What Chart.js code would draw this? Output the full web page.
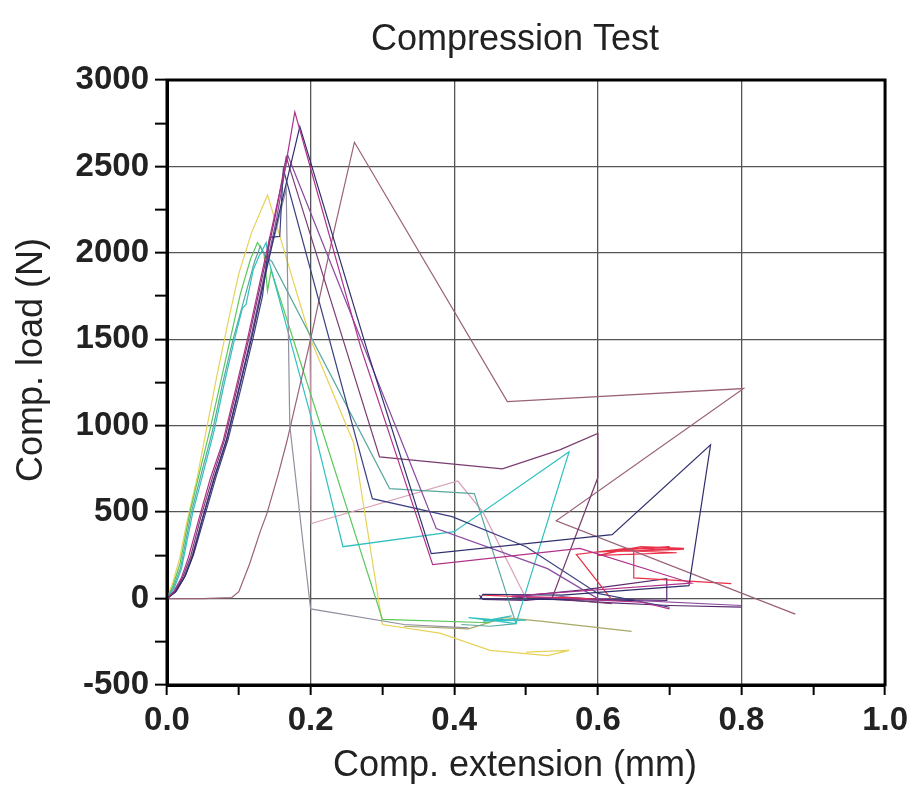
<!DOCTYPE html>
<html>
<head>
<meta charset="utf-8">
<script src="https://cdn.jsdelivr.net/npm/chart.js@4.4.1/dist/chart.umd.min.js"></script>
<style>
html,body{margin:0;padding:0;background:#fff;}
#wrap{width:914px;height:785px;position:relative;}
</style>
</head>
<body>
<div id="wrap"><canvas id="c" width="914" height="785"></canvas></div>
<script>
const chartTitle = "Compression Test";
const xAxisTitle = "Comp. extension (mm)";
const yAxisTitle = "Comp. load (N)";
const xTickLabels = ["0.0","0.2","0.4","0.6","0.8","1.0"];
const yTickLabels = ["-500","0","500","1000","1500","2000","2500","3000"];

const magentaA = [[0,0],[0.01,45],[0.02,120],[0.03,240],[0.045,470],[0.06,690],[0.078,910],[0.095,1200],[0.112,1500],[0.132,1880],[0.15,2220],[0.165,2500],[0.178,2815],[0.27,1450],[0.37,196],[0.575,290],[0.73,90],[0.48,15],[0.66,-20],[0.7,-60]];
const navyB = [[0,0],[0.012,40],[0.025,130],[0.036,250],[0.05,470],[0.066,700],[0.083,920],[0.1,1210],[0.118,1510],[0.138,1890],[0.155,2210],[0.17,2470],[0.185,2730],[0.28,1420],[0.368,260],[0.62,370],[0.757,890],[0.727,75],[0.55,20],[0.44,25],[0.436,0],[0.65,-10]];
const purpleC = [[0,0],[0.011,42],[0.022,125],[0.033,245],[0.047,470],[0.063,695],[0.08,915],[0.097,1205],[0.114,1505],[0.134,1885],[0.151,2215],[0.166,2555],[0.296,820],[0.467,750],[0.547,860],[0.6,955],[0.6,700],[0.536,0],[0.62,-30]];
const navyD = [[0,0],[0.013,45],[0.026,135],[0.037,255],[0.052,470],[0.068,700],[0.085,920],[0.102,1200],[0.12,1510],[0.133,1750],[0.143,2090],[0.157,2095],[0.162,2485],[0.286,578],[0.397,474],[0.5,300],[0.6,30],[0.7,-50]];
const purpleE = [[0,0],[0.012,38],[0.024,120],[0.035,240],[0.049,460],[0.065,690],[0.082,905],[0.099,1195],[0.116,1495],[0.136,1875],[0.153,2205],[0.168,2566],[0.375,405],[0.53,173],[0.6,0],[0.8,-40]];
const slateF = [[0,0],[0.012,42],[0.024,128],[0.035,248],[0.05,470],[0.066,698],[0.083,912],[0.1,1200],[0.117,1505],[0.136,1880],[0.15,2100],[0.166,2370],[0.171,1000],[0.19,300],[0.2,-60],[0.33,-150],[0.42,-170]];
const mauveG = [[0,0],[0.05,0],[0.09,5],[0.1,40],[0.115,200],[0.13,390],[0.139,490],[0.155,720],[0.167,910],[0.2,1500],[0.23,2080],[0.261,2640],[0.474,1140],[0.803,1215],[0.542,450],[0.875,-90]];
const cyanH = [[0,0],[0.01,60],[0.02,170],[0.036,500],[0.05,720],[0.065,960],[0.08,1250],[0.094,1500],[0.105,1680],[0.11,1700],[0.12,1900],[0.128,1980],[0.133,2017],[0.138,2060],[0.142,1950],[0.2,1060],[0.245,300],[0.4,387],[0.56,850],[0.486,-145],[0.42,-110],[0.45,-120],[0.5,-125],[0.44,-130],[0.48,-100]];
const tealI = [[0,0],[0.009,65],[0.019,180],[0.034,500],[0.048,725],[0.063,965],[0.078,1255],[0.092,1500],[0.108,1740],[0.122,1950],[0.13,2040],[0.137,1980],[0.146,1950],[0.31,636],[0.428,607],[0.486,-145],[0.45,-160],[0.41,-150]];
const greenJ = [[0,0],[0.008,70],[0.018,200],[0.032,500],[0.046,740],[0.06,980],[0.075,1260],[0.088,1500],[0.102,1760],[0.116,1960],[0.126,2060],[0.135,2000],[0.14,1780],[0.145,1900],[0.3,-120],[0.45,-140]];
const yellowK = [[0,0],[0.008,90],[0.018,240],[0.028,450],[0.042,700],[0.056,1000],[0.07,1300],[0.085,1600],[0.1,1880],[0.118,2120],[0.14,2335],[0.2,1500],[0.26,900],[0.3,-150],[0.38,-200],[0.45,-300],[0.53,-330],[0.56,-300],[0.5,-310]];
const pinkM = [[0.199,1500],[0.201,434],[0.405,680],[0.44,500],[0.5,0]];
const redN = [[0.44,20],[0.5,10],[0.56,5],[0.62,-10],[0.57,255],[0.64,290],[0.72,285],[0.6,270],[0.7,300],[0.62,280],[0.71,265],[0.6,250],[0.66,300],[0.72,290],[0.65,275],[0.65,120],[0.786,87]];
const oliveO = [[0.33,-160],[0.42,-175],[0.47,-110],[0.52,-130],[0.647,-190]];
const darkP = [[0.435,20],[0.44,-5],[0.5,-10],[0.55,10],[0.6,-5],[0.696,-10],[0.696,115],[0.58,50],[0.48,10],[0.62,-25],[0.7,-40],[0.8,-50]];

const seriesList = [
  [magentaA,'#b0308a'],[navyB,'#30306e'],[purpleC,'#7a3c70'],[navyD,'#3c4080'],
  [purpleE,'#8a4aa0'],[slateF,'#9090a0'],[mauveG,'#9a6078'],[cyanH,'#30c0c0'],
  [tealI,'#5aa8a0'],[greenJ,'#58c858'],[yellowK,'#e6d25a'],[pinkM,'#d8a0b8'],
  [redN,'#e83048'],[oliveO,'#a8a868'],[darkP,'#5a2a70']
];

const datasets = seriesList.map(([pts,col]) => ({
  data: pts.map(p => ({x:p[0], y:p[1]})),
  borderColor: col,
  backgroundColor: col,
  borderWidth: 1.2,
  pointRadius: 0,
  showLine: true,
  fill: false,
  tension: 0
}));

const FONT = '"Liberation Sans", Arial, sans-serif';

const textPlugin = {
  id: 'texts',
  afterDraw(chart) {
    const ctx = chart.ctx;
    const a = chart.chartArea;
    ctx.save();
    ctx.strokeStyle = '#000';
    ctx.lineWidth = 3;
    ctx.strokeRect(a.left, a.top, a.right - a.left, a.bottom - a.top);
    ctx.fillStyle = '#222';
    ctx.textAlign = 'center';
    ctx.textBaseline = 'middle';
    ctx.font = '36px ' + FONT;
    ctx.fillText(chartTitle, 515, 40);
    ctx.fillText(xAxisTitle, 515, 766);
    ctx.translate(32, 360);
    ctx.rotate(-Math.PI / 2);
    ctx.fillText(yAxisTitle, 0, 0);
    ctx.restore();
  }
};

const isMajorX = v => Math.round(v * 10) % 2 === 0;
const isMajorY = v => Math.round(v) % 500 === 0;

new Chart(document.getElementById('c'), {
  type: 'scatter',
  data: { datasets },
  options: {
    responsive: false,
    animation: false,
    layout: { padding: { top: 80, right: 27, left: 0, bottom: 0 } },
    plugins: { legend: { display: false }, tooltip: { enabled: false }, title: { display: false } },
    scales: {
      x: {
        type: 'linear', min: 0, max: 1,
        afterFit(s) { s.height = 100; },
        ticks: {
          stepSize: 0.1, padding: 6, color: '#222',
          font: { family: FONT, size: 33, weight: 'bold' },
          maxRotation: 0, autoSkip: false,
          callback: (v) => isMajorX(v) ? xTickLabels[Math.round(v * 5)] : ''
        },
        grid: {
          color: (c) => (c.tick && isMajorX(c.tick.value)) ? '#555' : 'rgba(0,0,0,0)',
          lineWidth: 1.3, tickColor: '#000', tickLength: 10, tickWidth: 2
        },
        border: { display: true, color: '#000', width: 3 }
      },
      y: {
        type: 'linear', min: -500, max: 3000,
        afterFit(s) { s.width = 167; },
        ticks: {
          stepSize: 250, padding: 6, color: '#222',
          font: { family: FONT, size: 33, weight: 'bold' },
          autoSkip: false,
          callback: (v) => isMajorY(v) ? yTickLabels[Math.round((v + 500) / 500)] : ''
        },
        grid: {
          color: (c) => (c.tick && isMajorY(c.tick.value)) ? '#555' : 'rgba(0,0,0,0)',
          lineWidth: 1.3, tickColor: '#000', tickLength: 12, tickWidth: 2
        },
        border: { display: true, color: '#000', width: 3 }
      }
    }
  },
  plugins: [textPlugin]
});
</script>
</body>
</html>
